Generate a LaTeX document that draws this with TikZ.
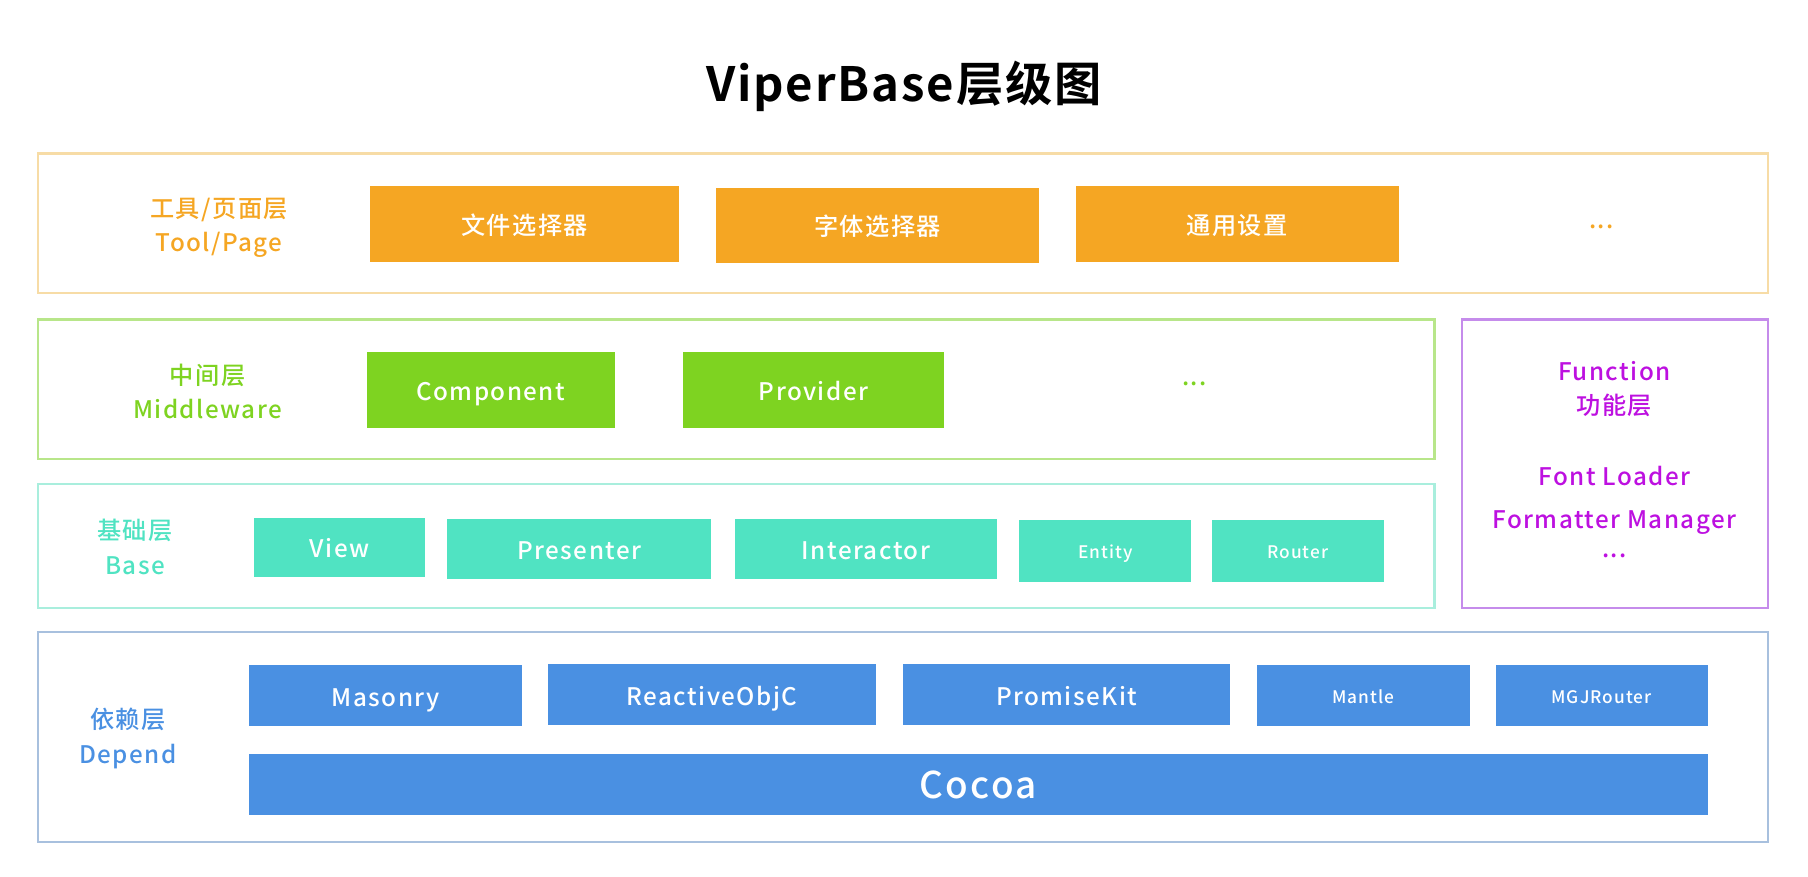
\documentclass[tikz,border=0pt]{standalone}
\usepackage{fontspec}
\setmainfont{Noto Sans CJK SC Medium}[LetterSpace=6]
\newfontfamily\titlefont{Noto Sans CJK SC Bold}[LetterSpace=4]
\definecolor{toolc}{HTML}{F5A623}
\definecolor{toolb}{HTML}{F7DCA6}
\definecolor{midc}{HTML}{7ED321}
\definecolor{midb}{HTML}{B8E68A}
\definecolor{basec}{HTML}{50E3C2}
\definecolor{baseb}{HTML}{A9EEDD}
\definecolor{func}{HTML}{BD10E0}
\definecolor{funb}{HTML}{C58CEB}
\definecolor{depc}{HTML}{4A90E2}
\definecolor{depb}{HTML}{A8C0DE}
\begin{document}
\begin{tikzpicture}[x=0.5pt, y=-0.5pt,
    layer/.style={draw, line width=1pt, inner sep=0pt},
    item/.style={inner sep=0pt, text=white, text height=9.5pt, text depth=0.5pt, font=\fontsize{10.5}{12}\selectfont},
    small/.style={item, text height=7pt, text depth=0.4pt, font=\fontsize{7.5}{9}\selectfont},
    label/.style={align=center, font=\fontsize{10.5}{15}\selectfont}
]
\useasboundingbox (0,0) rectangle (1568,760);
\node[font=\titlefont\fontsize{20.5}{24}\selectfont] (title) at (784,75) {ViperBase层级图};

% tool / page
\node[layer, draw=toolb, minimum width=750pt, minimum height=60.5pt] (tool) at (783,193.5) {};
\node[label, text=toolc] (toollabel) at (190,197.5) {工具/页面层\\Tool/Page};
\node[item, fill=toolc, minimum width=134pt, minimum height=33pt] (file) at (455,194) {文件选择器};
\node[item, fill=toolc, minimum width=140pt, minimum height=32.5pt] (font) at (761,195.5) {字体选择器};
\node[item, fill=toolc, minimum width=140pt, minimum height=33pt] (setting) at (1073,194) {通用设置};
\node[text=toolc, font=\fontsize{10.5}{12}\selectfont] (tooldots) at (1389,197) {...};

% middleware
\node[layer, draw=midb, minimum width=605.5pt, minimum height=60.5pt] (mid) at (638.5,337.5) {};
\node[label, text=midc] (midlabel) at (180,339.5) {中间层\\Middleware};
\node[item, fill=midc, minimum width=107.5pt, minimum height=33pt] (component) at (425.5,338) {Component};
\node[item, fill=midc, minimum width=113.5pt, minimum height=33pt] (provider) at (705.5,338) {Provider};
\node[text=midc, font=\fontsize{10.5}{12}\selectfont] (middots) at (1036,333) {...};

% base
\node[layer, draw=baseb, minimum width=605.5pt, minimum height=53.5pt] (base) at (638.5,473.5) {};
\node[label, text=basec] (baselabel) at (117,474.5) {基础层\\Base};
\node[item, fill=basec, minimum width=74.5pt, minimum height=25.5pt] (view) at (294.5,474.5) {View};
\node[item, fill=basec, minimum width=114.5pt, minimum height=26pt] (presenter) at (502.5,476) {Presenter};
\node[item, fill=basec, minimum width=114pt, minimum height=26pt] (interactor) at (751,476) {Interactor};
\node[small, fill=basec, minimum width=74.5pt, minimum height=27pt] (entity) at (958.5,478) {Entity};
\node[small, fill=basec, minimum width=74.5pt, minimum height=27pt] (router) at (1125.5,478) {Router};

% function
\node[layer, draw=funb, minimum width=132.5pt, minimum height=125pt] (function) at (1400.5,402) {};
\node[label, text=func] (funlabel) at (1400,337.5) {Function\\功能层};
\node[label, text=func] (fontloader) at (1400,413) {Font Loader};
\node[label, text=func] (formatter) at (1400,453) {Formatter Manager};
\node[text=func, font=\fontsize{10.5}{12}\selectfont] (fundots) at (1400,482) {...};

% depend
\node[layer, draw=depb, minimum width=750pt, minimum height=91pt] (depend) at (783,639) {};
\node[label, text=depc] (deplabel) at (111,640.5) {依赖层\\Depend};
\node[item, fill=depc, minimum width=118.5pt, minimum height=26.5pt] (masonry) at (334.5,603.5) {Masonry};
\node[item, fill=depc, minimum width=142.5pt, minimum height=26.5pt] (reactive) at (617.5,602.5) {ReactiveObjC};
\node[item, fill=depc, minimum width=142pt, minimum height=26.5pt] (promise) at (925,602.5) {PromiseKit};
\node[small, fill=depc, minimum width=92.5pt, minimum height=26.5pt] (mantle) at (1182.5,603.5) {Mantle};
\node[small, fill=depc, minimum width=92pt, minimum height=26.5pt] (mgj) at (1389,603.5) {MGJRouter};
\node[item, fill=depc, minimum width=632.5pt, minimum height=26.5pt, text height=12.1pt, text depth=0pt, font=\fontsize{16}{18}\selectfont] (cocoa) at (848.5,680.5) {Cocoa};
\end{tikzpicture}
\end{document}
